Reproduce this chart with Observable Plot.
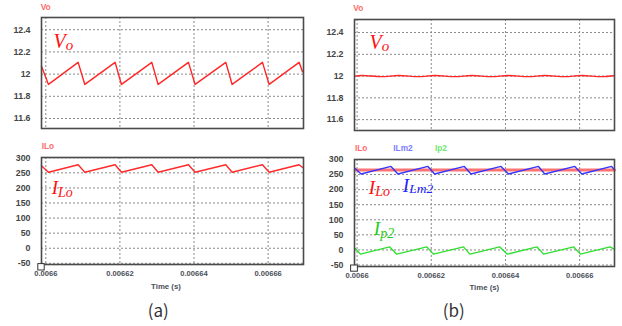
<!DOCTYPE html>
<html>
<head>
<meta charset="utf-8">
<script src="https://cdn.jsdelivr.net/npm/d3@7"></script>
<script src="https://cdn.jsdelivr.net/npm/@observablehq/plot@0.6"></script>
<style>
  body { margin: 0; background: #fff; }
  #wrap { position: relative; width: 622px; height: 326px; overflow: hidden; background: #fff; }
  #wrap > div { position: absolute; }
  #overlay { position: absolute; left: 0; top: 0; pointer-events: none; }
</style>
</head>
<body>
<div id="wrap">
  <div id="aTop" style="left:0px;top:0px"></div>
  <div id="aBot" style="left:0px;top:140px"></div>
  <div id="bTop" style="left:311px;top:0px"></div>
  <div id="bBot" style="left:311px;top:140px"></div>
</div>
<script>
// ---- tick values / labels ----
const tTicks = [0.0066, 0.00662, 0.00664, 0.00666];
const tLabels = ["0.0066", "0.00662", "0.00664", "0.00666"];
const vTicks = [11.6, 11.8, 12, 12.2, 12.4];
const vLabels = ["11.6", "11.8", "12", "12.2", "12.4"];
const iTicks = [-50, 0, 50, 100, 150, 200, 250, 300];
const iLabels = ["-50", "0", "50", "100", "150", "200", "250", "300"];

// ---- (a) series ----
const aTime = [0.00659884, 0.00660072, 0.00660873, 0.00661053, 0.00661871, 0.00662042,
  0.00662861, 0.00663032, 0.0066385, 0.0066403, 0.00664858, 0.00665029, 0.00665848,
  0.00666028, 0.00666837, 0.0066693];
const aVo = [12.07, 11.907, 12.106, 11.907, 12.106, 11.907, 12.106, 11.907, 12.106,
  11.907, 12.106, 11.907, 12.106, 11.907, 12.106, 12.02];
const aILo = [274, 252, 277, 252, 277, 252, 277, 252, 277, 252, 277, 252, 277, 252, 277, 268];

// ---- (b) series ----
const bVoTime = [0.0065995, 0.0066013, 0.0066067, 0.0066112, 0.0066166, 0.006621, 0.0066264,
  0.0066309, 0.0066363, 0.0066407, 0.0066462, 0.0066506, 0.006656, 0.0066605, 0.0066659, 0.0066694];
const bVo = [12.0, 12.005, 11.995, 12.005, 11.995, 12.005, 11.995, 12.005, 11.995, 12.005,
  11.995, 12.005, 11.995, 12.005, 11.995, 12.003];
const bILoTime = [0.0065995, 0.0066694];
const bILo = [265, 265];
const bILm2Time = [0.0065995, 0.00660107, 0.00660913, 0.006611, 0.0066191, 0.0066209, 0.0066289,
  0.0066307, 0.0066388, 0.0066408, 0.0066489, 0.0066506, 0.0066587, 0.0066606, 0.0066686, 0.0066694];
const bILm2 = [270, 252, 277, 252, 277, 252, 277, 252, 277, 252, 277, 252, 277, 252, 277, 266];
const bIp2Time = [0.0065995, 0.0066009, 0.0066088, 0.0066107, 0.0066188, 0.0066206, 0.0066287,
  0.0066304, 0.0066385, 0.0066405, 0.0066485, 0.0066503, 0.0066584, 0.0066602, 0.0066682, 0.0066694];
const bIp2 = [5, -14, 10, -14, 10, -14, 10, -14, 10, -14, 10, -14, 10, -14, 10, 2];

const rows = (T, V) => T.map((t, i) => ({t, v: V[i]}));
const lab = (ticks, labels) => d => labels[ticks.indexOf(d)];

const FONT = "'Liberation Sans', Arial, sans-serif";
const gridStyle = {stroke: "#8a8a8a", strokeOpacity: 1, strokeDasharray: "2,2", strokeWidth: 1};

function panel({el, width, height, ml, mr, mt, mb, xDomain, yDomain, yTicks, yLabels, yPad, lines, xAxis}) {
  const marks = [
    Plot.ruleY(yTicks, gridStyle),
    Plot.ruleX(tTicks, gridStyle),
    ...lines,
    Plot.frame({stroke: "#4a4a4a", strokeWidth: 1.6}),
    Plot.axisY(yTicks, {tickSize: 0, tickPadding: yPad, fontSize: 8.8, fontWeight: "bold",
      color: "#454545", tickFormat: lab(yTicks, yLabels), label: null})
  ];
  if (xAxis) {
    marks.push(Plot.axisX(tTicks, {tickSize: 0, tickPadding: 6, fontSize: 7.6, fontWeight: "bold",
      color: "#4a4f5a", tickFormat: lab(tTicks, tLabels), label: null}));
  }
  const svg = Plot.plot({
    width, height, marginLeft: ml, marginRight: mr, marginTop: mt, marginBottom: mb,
    x: {domain: xDomain, axis: null},
    y: {domain: yDomain, axis: null},
    style: {fontFamily: FONT, background: "transparent", overflow: "visible"},
    marks
  });
  document.getElementById(el).appendChild(svg);
}

const aX = [0.00659884, 0.00666955];
const bX = [0.0065993, 0.0066694];

panel({el: "aTop", width: 311, height: 135, ml: 41, mr: 8, mt: 17, mb: 7,
  xDomain: aX, yDomain: [11.51, 12.51], yTicks: vTicks, yLabels: vLabels, yPad: 11,
  lines: [Plot.line(rows(aTime, aVo), {x: "t", y: "v", stroke: "#ff2626", strokeWidth: 1.4})]});

panel({el: "aBot", width: 311, height: 160, ml: 41, mr: 8, mt: 17, mb: 36,
  xDomain: aX, yDomain: [-54, 301], yTicks: iTicks, yLabels: iLabels, yPad: 11, xAxis: true,
  lines: [Plot.line(rows(aTime, aILo), {x: "t", y: "v", stroke: "#ff2a2a", strokeWidth: 1.4})]});

panel({el: "bTop", width: 311, height: 135, ml: 43, mr: 8, mt: 19, mb: 5,
  xDomain: bX, yDomain: [11.50, 12.52], yTicks: vTicks, yLabels: vLabels, yPad: 11,
  lines: [Plot.line(rows(bVoTime, bVo), {x: "t", y: "v", stroke: "#ff2626", strokeWidth: 1.4, curve: "catmull-rom"})]});

panel({el: "bBot", width: 311, height: 160, ml: 43, mr: 8, mt: 19, mb: 34,
  xDomain: bX, yDomain: [-55, 300], yTicks: iTicks, yLabels: iLabels, yPad: 11, xAxis: true,
  lines: [
    Plot.line(rows(bILoTime, bILo), {x: "t", y: "v", stroke: "#ff7373", strokeWidth: 3}),
    Plot.line(rows(bILm2Time, bILm2), {x: "t", y: "v", stroke: "#3535ff", strokeWidth: 1.4}),
    Plot.line(rows(bIp2Time, bIp2), {x: "t", y: "v", stroke: "#30e030", strokeWidth: 1.4})
  ]});

// ---- overlay: channel names, italic annotations, captions ----
const ns = "http://www.w3.org/2000/svg";
const ov = document.createElementNS(ns, "svg");
ov.setAttribute("id", "overlay");
ov.setAttribute("width", 622);
ov.setAttribute("height", 326);
ov.innerHTML = `
  <g font-family="${FONT}" font-weight="bold" font-size="8.3">
    <text x="40.7" y="9.5" fill="#ff6b6b">Vo</text>
    <text x="41.7" y="148.5" fill="#ff6b6b">ILo</text>
    <text x="353.3" y="11.3" fill="#ff6b6b">Vo</text>
    <text x="355" y="150.5" fill="#ff6b6b">ILo</text>
    <text x="393.3" y="150.5" fill="#7b7bff">ILm2</text>
    <text x="435" y="150.5" fill="#6fe86f">Ip2</text>
  </g>
  <g font-family="'Liberation Serif', 'Times New Roman', serif" font-style="italic">
    <text x="53.5" y="48.3" fill="#ff1010" font-size="20">V<tspan font-size="15" dy="2">o</tspan></text>
    <text x="369.5" y="48.8" fill="#ff1010" font-size="20">V<tspan font-size="15" dy="2">o</tspan></text>
    <text x="51.7" y="193.5" fill="#ff1010" font-size="19">I<tspan font-size="14" dy="3">Lo</tspan></text>
    <text x="368.8" y="193.5" fill="#ff1010" font-size="19">I<tspan font-size="14" dy="2">Lo</tspan></text>
    <text x="402.8" y="191.7" fill="#2222ff" font-size="19">I<tspan font-size="13.5" dy="1.5">Lm2</tspan></text>
    <text x="373.8" y="234.5" fill="#22cc22" font-size="19">I<tspan font-size="14" dy="3">p2</tspan></text>
  </g>
  <g font-family="${FONT}" font-weight="bold" font-size="7.8" fill="#4a4f5a" text-anchor="middle">
    <text x="166" y="289">Time (s)</text>
    <text x="484.3" y="290">Time (s)</text>
  </g>
  <g font-family="'Noto Sans CJK KR', 'Noto Sans', sans-serif" font-size="17" fill="#333" text-anchor="middle">
    <text x="158.3" y="316.5">(a)</text>
    <text x="453.8" y="316.5">(b)</text>
  </g>
  <rect x="37.8" y="263.6" width="6.4" height="6.4" fill="#fff" stroke="#333" stroke-width="1"/>
  <rect x="350.6" y="265" width="6.8" height="6.2" fill="#fff" stroke="#333" stroke-width="1"/>
`;
document.getElementById("wrap").appendChild(ov);
</script>
</body>
</html>
